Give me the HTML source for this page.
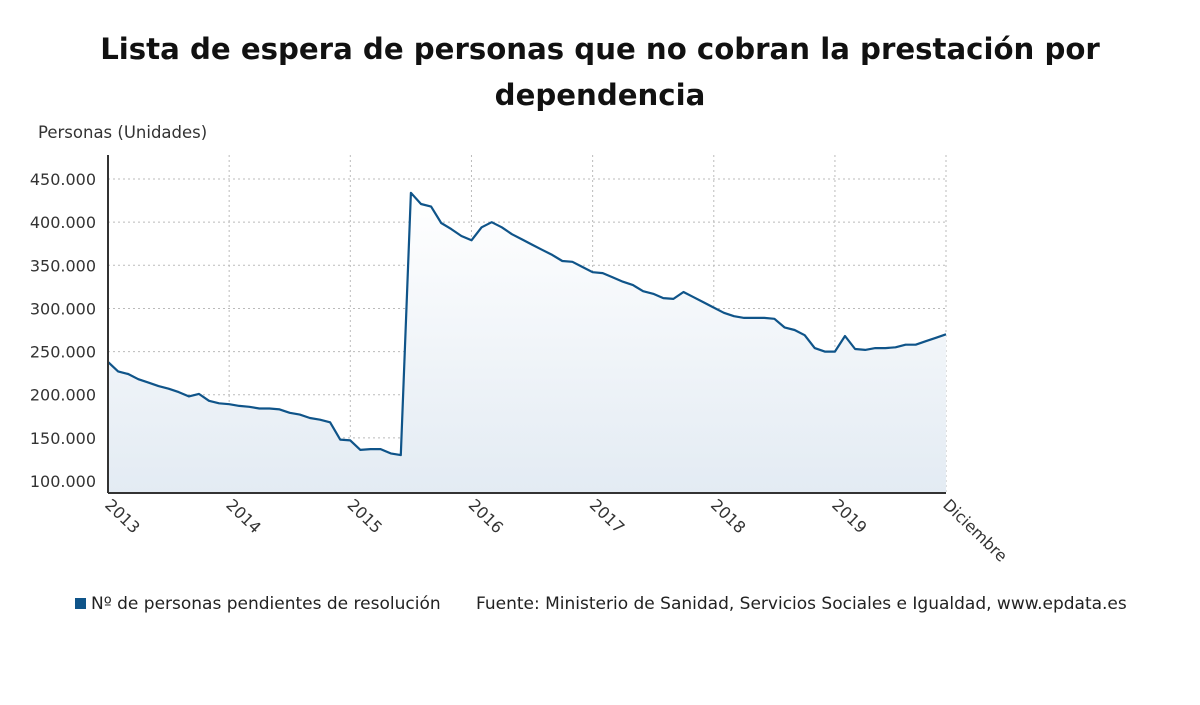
<!DOCTYPE html>
<html><head><meta charset="utf-8">
<style>
body{margin:0;background:#fff;font-family:"DejaVu Sans","Liberation Sans",sans-serif;}
#wrap{position:relative;width:1200px;height:705px;overflow:hidden;}
h1{position:absolute;left:0;top:26px;width:1200px;margin:0;text-align:center;font-size:29.2px;line-height:46px;font-weight:bold;color:#111;}
</style></head>
<body>
<div id="wrap">
<h1>Lista de espera de personas que no cobran la prestación por<br>dependencia</h1>
<svg id="chart" width="1200" height="705" style="position:absolute;left:0;top:0;font-family:'DejaVu Sans',sans-serif">
<defs><linearGradient id="g" x1="0" y1="0" x2="0" y2="1"><stop offset="0" stop-color="#ffffff"/><stop offset="1" stop-color="#e3ebf3"/></linearGradient></defs>
</svg>
</div>
<script>
const yTicks=[100000,150000,200000,250000,300000,350000,400000,450000];
const yTickLabels=["100.000","150.000","200.000","250.000","300.000","350.000","400.000","450.000"];
const xLabels=["2013","2014","2015","2016","2017","2018","2019","Diciembre"];
const xLabelIdx=[0,12,24,36,48,60,72,83];
const values=[238000,227000,224000,218000,214000,210000,207000,203000,198000,201000,193000,190000,189000,187000,186000,184000,184000,183000,179000,177000,173000,171000,168000,148000,147000,136000,137000,137000,132000,130000,
434000,421000,418000,399000,392000,384000,379000,394000,400000,394000,386000,380000,374000,368000,362000,355000,354000,348000,342000,341000,336000,331000,327000,320000,317000,312000,311000,319000,313000,
307000,301000,295000,291000,289000,289000,289000,288000,278000,275000,269000,254000,250000,250000,268000,253000,252000,254000,254000,255000,258000,258000,262000,266000,270000];
const NS="http://www.w3.org/2000/svg";
const svg=document.getElementById('chart');
const x0=108,x1=946,yTop=155,yBot=493;
const xs=i=>x0+(x1-x0)*i/(values.length-1);
const ys=v=>481-(v-100000)/50000*43.14;
function mk(t,a){const e=document.createElementNS(NS,t);for(const k in a)e.setAttribute(k,a[k]);svg.appendChild(e);return e;}
yTicks.forEach((t,i)=>{
 const g=mk('line',{x1:x0,x2:x1,y1:ys(t),y2:ys(t),stroke:'#bbb','stroke-dasharray':'2,3'});
 
 
 const l=mk('text',{x:96,y:ys(t)+6,'text-anchor':'end','font-size':'16',fill:'#333'});
 l.textContent=yTickLabels[i];
 
 
});
xLabelIdx.forEach((idx,i)=>{
 const x=xs(idx);
 if(i>0){const g=mk('line',{x1:x,x2:x,y1:yTop,y2:yBot,stroke:'#bbb','stroke-dasharray':'2,3'});
 
 }
 const l=mk('text',{x:x-4,y:yBot+13,'font-size':'16',fill:'#333',transform:`rotate(44 ${x-4} ${yBot+13})`});
 l.textContent=xLabels[i];
 
 
});
let d='M'+xs(0)+','+ys(values[0]);
values.forEach((v,i)=>{if(i)d+=' L'+xs(i).toFixed(1)+','+ys(v).toFixed(1);});
const area=mk('path',{d:d+` L${x1},${yBot} L${x0},${yBot} Z`,fill:'url(#g)'});


const line=mk('path',{d:d,fill:'none',stroke:'#0f5489','stroke-width':'2.2','stroke-linejoin':'round'});


const ya=mk('line',{x1:x0,x2:x0,y1:yTop,y2:yBot,stroke:'#333','stroke-width':'2'});


const xa=mk('line',{x1:x0,x2:x1,y1:yBot,y2:yBot,stroke:'#333','stroke-width':'2'});


const yt=mk('text',{x:38,y:138,'font-size':'16.5',fill:'#333'});
yt.textContent='Personas (Unidades)';


const sw=mk('rect',{x:75,y:598,width:11,height:11,fill:'#0f5489'});


const lt=mk('text',{x:91,y:609,'font-size':'17',fill:'#222'});
lt.textContent='Nº de personas pendientes de resolución';


const src=mk('text',{x:476,y:609,'font-size':'17',fill:'#222'});
src.textContent='Fuente: Ministerio de Sanidad, Servicios Sociales e Igualdad, www.epdata.es';


</script>
</body></html>
